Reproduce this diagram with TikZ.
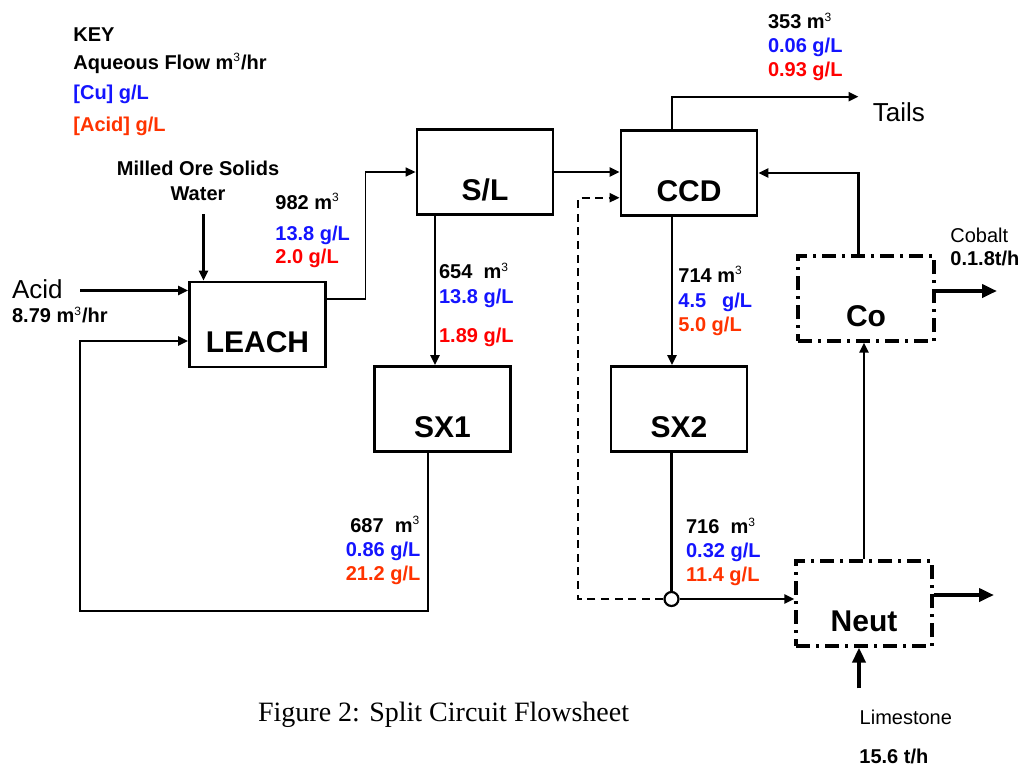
\documentclass[tikz,border=0pt]{standalone}
\usepackage{fontspec}
\setmainfont{Liberation Sans}
\newfontfamily\capfont{Liberation Serif}
\usetikzlibrary{arrows.meta}

\definecolor{cublue}{RGB}{20,20,255}
\definecolor{acidred}{RGB}{255,0,0}
\definecolor{acidorange}{RGB}{255,51,0}

\newcommand{\mcube}{m\textsuperscript{\mdseries\fontsize{6}{6}\selectfont 3}}

\begin{document}
\begin{tikzpicture}[x=0.5pt, y=-0.5pt]
    \tikzstyle{unit}=[
        draw = black,
        line width = 1.4pt,
        minimum width = 68pt,
        minimum height = 42.5pt,
        inner sep = 0pt,
        text height = 28pt,
        text depth = 0pt,
        font = \bfseries\fontsize{15}{18}\selectfont
    ]
    \tikzstyle{ctrl unit}=[
        unit,
        line width = 1.6pt,
        dash pattern = on 7pt off 3pt on 1.5pt off 3pt
    ]
    \tikzstyle{flow}=[
        line width = 1.1pt,
        -{Triangle[length=5pt, width=4.5pt]}
    ]
    \tikzstyle{big flow}=[
        line width = 2pt,
        -{Triangle[length=7.5pt, width=6.5pt]}
    ]
    \tikzstyle{stream}=[
        font = \bfseries\fontsize{10}{12}\selectfont,
        align = left,
        anchor = north west,
        inner sep = 0pt
    ]
    \tikzstyle{plain}=[
        font = \fontsize{10}{12}\selectfont,
        anchor = west,
        inner sep = 0pt
    ]

    \useasboundingbox (0,0) rectangle (1022,767);

    % units
    \node[unit]      (leach) at (257.5, 324.5) {LEACH};
    \node[unit]      (sl)    at (485, 172)     {S/L};
    \node[unit]      (ccd)   at (689, 173)     {CCD};
    \node[unit]      (sx1)   at (442.5, 409)   {SX1};
    \node[unit]      (sx2)   at (679, 409)     {SX2};
    \node[ctrl unit] (co)    at (866, 298.5)   {Co};
    \node[ctrl unit] (neut)  at (864, 603.5)   {Neut};
    \node[draw, circle, fill=white, line width=1.1pt, minimum size=7pt, inner sep=0pt] (split) at (671.5, 599) {};

    \coordinate (acidin)  at (80, 290.5);
    \coordinate (orein)   at (203.5, 214);
    \coordinate (ret)     at (80, 611);
    \coordinate (tails)   at (858.5, 96.7);
    \coordinate (bypass)  at (578.3, 599);
    \coordinate (cobalt)  at (997, 291);
    \coordinate (neutout) at (994, 595);
    \coordinate (lime)    at (859, 688.3);

    % streams
    \draw[flow] (acidin) -- (acidin -| leach.west);
    \draw[flow] (orein) -- (orein |- leach.north);
    \draw[flow, line width=0.7pt] ([yshift=12.75pt]leach.east) -| ([xshift=-25pt]sl.west) -- (sl.west);
    \draw[flow] (sl.east) -- (sl.east -| ccd.west);
    \draw[flow] ([xshift=-25pt]sl.south) -- ([xshift=-25pt]sl.south |- sx1.north);
    \draw[flow] ([xshift=-7.4pt]sx1.south) |- (ret) |- ([yshift=-8.25pt]leach.west);
    \draw[flow] ([xshift=-8.5pt]ccd.north) |- (tails);
    \draw[flow] ([xshift=-3.75pt]co.north) |- (ccd.east);
    \draw[flow] ([xshift=-8.5pt]ccd.south) -- ([xshift=-8.5pt]ccd.south |- sx2.north);
    \draw[line width=1.1pt] (split |- sx2.south) -- (split);
    \draw[flow] (split) -- (split -| neut.west);
    \draw[flow, dash pattern=on 4pt off 2.8pt] (split) -- (bypass) |- ([yshift=-12.35pt]ccd.west);
    \draw[flow] (neut.north) -- (neut.north |- co.south);
    \draw[big flow] (co.east |- cobalt) -- (cobalt);
    \draw[big flow] (neut.east |- neutout) -- (neutout);
    \draw[big flow] (lime) -- (lime |- neut.south);

    % key
    \node[stream] (key) at (73, 27) {KEY\\[2pt]
        Aqueous Flow \mcube/hr\\[3pt]
        \textcolor{cublue}{[Cu] g/L}\\[4pt]
        \textcolor{acidorange}{[Acid] g/L}};

    % stream data
    \node[stream] (q982) at (275, 193) {982 \mcube\\[3.6pt]
        \textcolor{cublue}{13.8 g/L}\\[-0.5pt]
        \textcolor{acidred}{2.0 g/L}};
    \node[stream] (q654) at (438.7, 262.5) {654\ \ \mcube\\[0.5pt]
        \textcolor{cublue}{13.8 g/L}\\[7.5pt]
        \textcolor{acidred}{1.89 g/L}};
    \node[stream] (q714) at (678, 266) {714 \mcube\\[0.5pt]
        \textcolor{cublue}{4.5\hspace{8pt}g/L}\\
        \textcolor{acidorange}{5.0 g/L}};
    \node[stream] (q353) at (767.6, 12.5) {353 \mcube\\
        \textcolor{cublue}{0.06 g/L}\\
        \textcolor{acidred}{0.93 g/L}};
    \node[stream, anchor=north east, align=right] (q687) at (420.7, 516) {687\ \ \mcube\\
        \textcolor{cublue}{0.86 g/L}\\
        \textcolor{acidorange}{21.2 g/L}};
    \node[stream] (q716) at (685.7, 517.5) {716\ \ \mcube\\
        \textcolor{cublue}{0.32 g/L}\\
        \textcolor{acidorange}{11.4 g/L}};

    % feed and product labels
    \node[stream, anchor=north, align=center] (ore) at (198, 161) {Milled Ore Solids\\[0.5pt] Water};
    \node[plain, font=\fontsize{13}{15}\selectfont] (acid) at (11.7, 289) {Acid};
    \node[stream, anchor=west] (acidrate) at (11.7, 315) {8.79 \mcube/hr};
    \node[plain, font=\fontsize{13}{15}\selectfont] (tailstxt) at (872.5, 111.7) {Tails};
    \node[plain] (cobalttxt) at (950, 235) {Cobalt};
    \node[stream, anchor=west] (cobaltrate) at (950, 258) {0.1.8t/h};
    \node[plain] (limetxt) at (859.3, 717) {Limestone};
    \node[stream, anchor=west] (limerate) at (859, 756) {15.6 t/h};

    \node[anchor=west, inner sep=0pt, font=\capfont\fontsize{14}{16}\selectfont] (caption) at (257.7, 715) {Figure 2: Split Circuit Flowsheet};

\end{tikzpicture}
\end{document}
